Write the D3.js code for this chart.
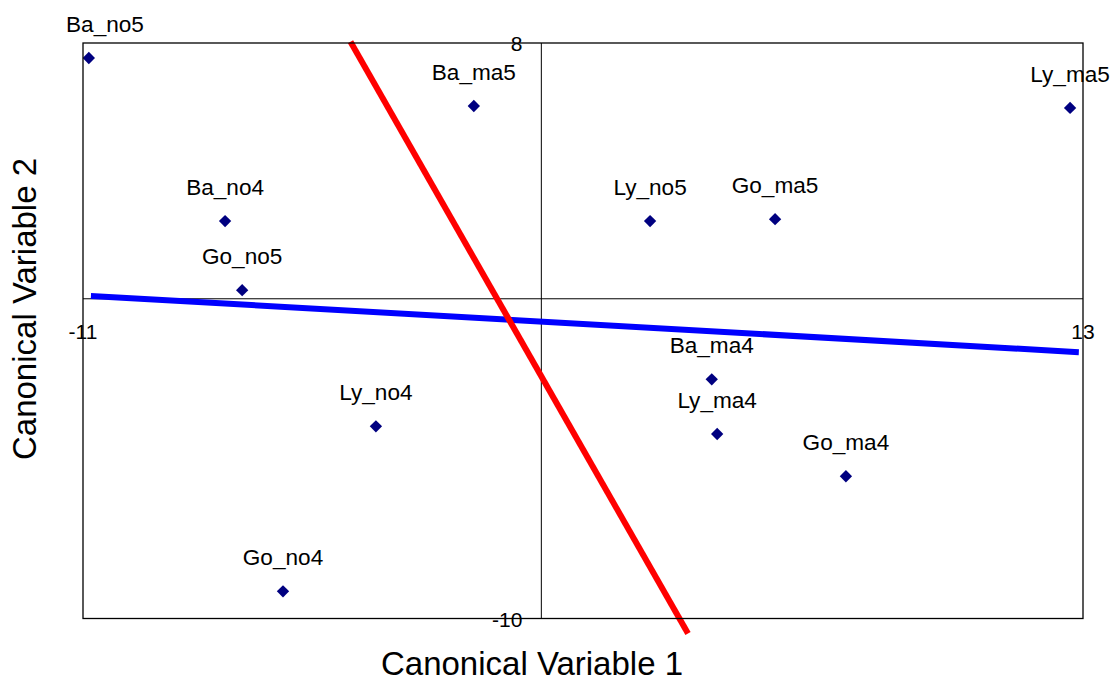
<!DOCTYPE html>
<html>
<head>
<meta charset="utf-8">
<script src="https://cdn.jsdelivr.net/npm/d3@7/dist/d3.min.js"></script>
<style>
  html, body { margin: 0; padding: 0; background: #fff; }
  text { font-family: "Liberation Sans", Arial, sans-serif; fill: #000; }
</style>
</head>
<body>
<svg id="chart" width="1118" height="681"></svg>
<script>
// Group centroids on the first two canonical variables
const labels = ["Ba_no5", "Ba_ma5", "Ly_ma5", "Ba_no4", "Ly_no5", "Go_ma5",
                "Go_no5", "Ba_ma4", "Ly_no4", "Ly_ma4", "Go_ma4", "Go_no4"];
const canon1 = [-10.86, -1.62, 12.69, -7.59, 2.61, 5.61,
                -7.18, 4.09, -3.97, 4.22, 7.31, -6.20];
const canon2 = [7.53, 6.03, 5.97, 2.43, 2.43, 2.49,
                0.27, -2.52, -3.99, -4.23, -5.55, -9.15];

// Axis ranges and their end labels
const xDomain = [-11, 13];
const yDomain = [-10, 8];
const xTickLabels = ["-11", "13"];
const yTickLabels = ["8", "-10"];

// Discriminating lines (endpoints in canonical units)
const blueLineX = [-10.81, 12.90];
const blueLineY = [0.09, -1.67];
const redLineX = [-4.58, 3.52];
const redLineY = [8.04, -10.47];

const svg = d3.select("#chart");
const margin = { left: 83, top: 43, right: 35, bottom: 62.5 };
const W = 1118, H = 681;
const iw = W - margin.left - margin.right;
const ih = H - margin.top - margin.bottom;

const x = d3.scaleLinear().domain(xDomain).range([margin.left, margin.left + iw]);
const y = d3.scaleLinear().domain(yDomain).range([margin.top + ih, margin.top]);

// Zero lines through the origin
svg.append("line")
  .attr("x1", x(0)).attr("x2", x(0))
  .attr("y1", y(yDomain[1])).attr("y2", y(yDomain[0]))
  .attr("stroke", "#000").attr("stroke-width", 1);
svg.append("line")
  .attr("x1", x(xDomain[0])).attr("x2", x(xDomain[1]))
  .attr("y1", y(0)).attr("y2", y(0))
  .attr("stroke", "#000").attr("stroke-width", 1);

// Separating lines
const line = d3.line().x(d => x(d[0])).y(d => y(d[1]));
svg.append("path")
  .attr("d", line(d3.zip(blueLineX, blueLineY)))
  .attr("stroke", "#0000ff").attr("stroke-width", 6).attr("fill", "none");
svg.append("path")
  .attr("d", line(d3.zip(redLineX, redLineY)))
  .attr("stroke", "#ff0000").attr("stroke-width", 6).attr("fill", "none");

// Points
const pts = labels.map((l, i) => ({ label: l, cx: canon1[i], cy: canon2[i] }));
const diamond = d3.symbol().type(d3.symbolSquare).size(76);
svg.append("g").selectAll("path")
  .data(pts).join("path")
  .attr("d", diamond)
  .attr("transform", d => `translate(${x(d.cx)},${y(d.cy)}) rotate(45)`)
  .attr("fill", "#000080");

// Point labels, kept from running off the left side
const lab = svg.append("g").selectAll("text")
  .data(pts).join("text")
  .attr("font-size", 22.6)
  .attr("text-anchor", "middle")
  .attr("y", d => y(d.cy) - 26)
  .text(d => d.label);
lab.each(function(d) {
  const w = this.getComputedTextLength();
  const cx = Math.max(x(d.cx), margin.left - 17 + w / 2);
  d3.select(this).attr("x", cx);
});

// Plot frame
svg.append("rect")
  .attr("x", margin.left).attr("y", margin.top)
  .attr("width", iw).attr("height", ih)
  .attr("fill", "none").attr("stroke", "#000").attr("stroke-width", 1.3);

// End labels of the axes
svg.append("text").attr("font-size", 21).attr("text-anchor", "end")
  .attr("x", x(0) - 19).attr("y", y(yDomain[1]) + 8).text(yTickLabels[0]);
svg.append("text").attr("font-size", 21).attr("text-anchor", "end")
  .attr("x", x(0) - 19).attr("y", y(yDomain[0]) + 8).text(yTickLabels[1]);
svg.append("text").attr("font-size", 21).attr("text-anchor", "middle")
  .attr("x", x(xDomain[0])).attr("y", y(0) + 40).text(xTickLabels[0]);
svg.append("text").attr("font-size", 21).attr("text-anchor", "middle")
  .attr("x", x(xDomain[1])).attr("y", y(0) + 40).text(xTickLabels[1]);

// Axis titles
svg.append("text").attr("font-size", 33).attr("text-anchor", "middle")
  .attr("x", 532).attr("y", 675).text("Canonical Variable 1");
svg.append("text").attr("font-size", 33).attr("text-anchor", "middle")
  .attr("transform", "translate(36,309) rotate(-90)").text("Canonical Variable 2");
</script>
</body>
</html>
